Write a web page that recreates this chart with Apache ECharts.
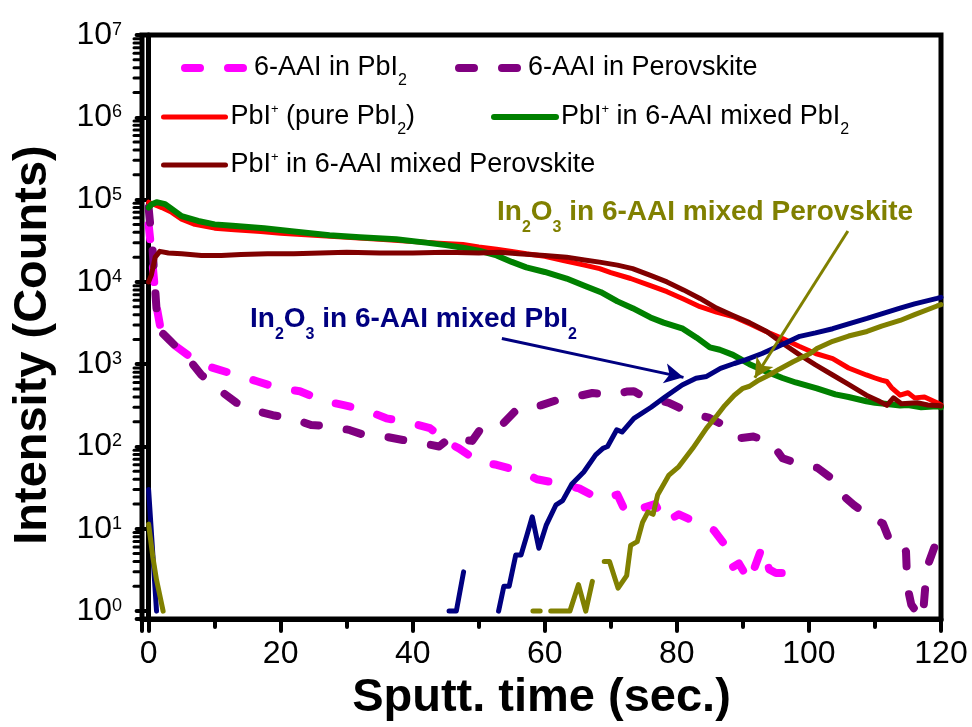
<!DOCTYPE html>
<html>
<head>
<meta charset="utf-8">
<script src="https://cdn.jsdelivr.net/npm/echarts@6/dist/echarts.min.js"></script>
<style>
  html, body { margin: 0; padding: 0; background: #fff; }
  #chart { width: 972px; height: 727px; }
</style>
</head>
<body>
<div id="chart"></div>
<script>
const FONT = '"Liberation Sans", Arial, Helvetica, sans-serif';

// ToF-SIMS depth profiles: [sputter time (s), intensity (counts)].
// A '-' intensity breaks the trace where the signal falls below one count.
const aaiInPbI2 = [
  [0, 50000], [0.4, 25000], [0.9, 9000], [1.2, 5100], [2, 2240], [3.5, 1800], [6.7, 1170], [9.2, 930],
  [13.3, 740], [16.4, 620], [19.8, 510], [22.9, 470], [26.4, 360], [29.4, 320], [33, 275], [36, 220],
  [39.5, 195], [42.6, 167], [45.7, 108], [47, 95], [50, 65], [52.7, 60], [56.7, 49], [58.8, 40],
  [62.5, 35], [65.2, 31], [68.3, 23], [71, 26], [72.4, 15], [74, 17], [76.7, 20], [78.2, 12],
  [80.3, 15], [82.9, 12], [85.6, 9.6], [87.2, 6.5], [88.4, 3.4], [89.4, 3.8], [91, 2.3], [92.9, 6],
  [94, 3.2], [95, 2.9], [98, 2.9]
];
const aaiInPerovskite = [
  [0, 80000], [0.6, 25000], [1, 8000], [1.4, 2700], [3.2, 1950], [6.2, 1120], [8, 740], [10.8, 480],
  [13.3, 340], [16, 275], [18.8, 240], [21.8, 220], [24.6, 182], [27.4, 178], [30.5, 158], [33, 135],
  [36, 131], [38.5, 120], [41.5, 110], [44, 100], [46, 135], [48, 120], [49, 117], [50.6, 178],
  [53.7, 190], [55.9, 290], [59.4, 316], [61.7, 363], [64.5, 400], [67.2, 447], [70.3, 420], [72.4, 465],
  [73.5, 470], [75, 400], [78.8, 340], [81.7, 263], [84.8, 224], [87.1, 182], [89.3, 126], [91.6, 132],
  [94.2, 114], [96, 72], [98.9, 60], [101.3, 55], [103.6, 40], [105, 26], [106.8, 19.5], [108.9, 14.6],
  [111.2, 11.6], [112, 8], [113.6, 8], [114.7, 5.3], [114.9, 2], [115.5, 1.2], [116.2, 1], [116.8, 1.5],
  [117.4, 1.2], [117.8, 3], [118, 3.6], [119, 6], [120, 4]
];
const pbiPure = [
  [0, 93000], [1, 86000], [2, 80000], [3.5, 70000], [5, 58000], [7, 50000], [10, 45000], [13, 43000],
  [17, 41000], [20, 39000], [25, 37000], [30, 35000], [35, 33000], [40, 31000], [44, 29500], [47.6, 28500],
  [50, 26500], [52.7, 25000], [55, 23500], [57.2, 22000], [60, 20500], [63, 18000], [66, 16000], [68.3, 14500],
  [70, 13000], [73, 11000], [76, 9000], [78.5, 7600], [81, 6200], [83.5, 5000], [86, 4300], [88.5, 3800],
  [91, 3100], [93.5, 2500], [96, 2050], [98.5, 1650], [101, 1350], [103.6, 1170], [106, 900], [108.7, 740],
  [110, 680], [111, 640], [111.8, 616], [112.5, 520], [113.8, 420], [115, 450], [116, 390], [117.5, 400],
  [119.4, 340], [120, 320]
];
const pbiMixedPbI2 = [
  [0, 80000], [0.5, 88000], [1.2, 93000], [2.5, 88000], [3.6, 76000], [5, 63000], [7.5, 55000], [10, 50000],
  [12.7, 48000], [17.5, 45000], [22, 41000], [27.4, 37000], [32, 35000], [37.5, 33000], [42, 30000], [45, 28000],
  [47.6, 26000], [50, 24000], [52.7, 21000], [55, 17500], [57.2, 15000], [60, 13200], [63.3, 11000], [66, 9000],
  [68.5, 7500], [71, 5800], [73.3, 4800], [76, 3700], [78, 3200], [80.9, 2700], [83, 2100], [85, 1600],
  [86.5, 1500], [88.5, 1300], [91, 1000], [93.6, 810], [96, 680], [98, 600], [101.2, 510], [104, 430],
  [106, 400], [108.7, 355], [110, 340], [111.5, 330], [113.8, 315], [115, 320], [117, 300], [119.4, 309],
  [120, 300]
];
const pbiMixedPerovskite = [
  [0, 10000], [0.4, 12000], [1, 20000], [1.7, 23500], [3, 22500], [5, 22000], [8, 21000], [11, 21000],
  [14, 21500], [18, 22000], [22, 22000], [26, 22500], [30, 23000], [35, 22500], [40, 22500], [45, 23000],
  [50, 22500], [53.2, 23000], [56, 22000], [60, 21000], [63.3, 20000], [66, 18500], [68.3, 17400], [71, 16000],
  [73.3, 14500], [76, 12000], [78.5, 10000], [81, 8000], [83.5, 6300], [86, 4800], [88.5, 3900], [91, 3200],
  [93.6, 2500], [96, 1800], [98.6, 1300], [101, 980], [103.6, 740], [106, 570], [108.7, 420], [110.5, 360],
  [111.8, 316], [112.8, 390], [114, 330], [116.4, 340], [118, 320], [119.4, 316], [120, 310]
];
const in2o3MixedPbI2 = [
  [0, 30], [1.2, 1], [1.3, '-'],
  [45.5, 1], [46.6, 1], [47.7, 3], [47.8, '-'],
  [53, 1], [53.8, 2], [54.6, 2], [55.6, 4.8], [56.4, 4.8], [57.3, 8.4], [58.1, 14], [59.1, 5.8],
  [60.2, 11], [61.7, 19.6], [62.7, 22], [64.1, 35], [65.9, 49], [67.7, 79], [68.8, 95], [69.5, 100],
  [70.9, 160], [71.7, 150], [73.5, 220], [76.1, 300], [78.2, 400], [80.8, 560], [82.9, 675], [84.5, 710],
  [86.6, 890], [88.7, 1020], [90.3, 1120], [92.9, 1350], [95, 1600], [97, 1900], [98.6, 2180], [101, 2400],
  [103.6, 2700], [106, 3100], [108.8, 3600], [111, 4100], [113.8, 4800], [116, 5400], [119.4, 6300], [120, 6500]
];
const in2o3MixedPerovskite = [
  [0, 11.4], [0.65, 4.5], [1.2, 2.4], [2.2, 1], [2.3, '-'],
  [58.2, 1], [59.3, 1], [59.4, '-'],
  [60.9, 1], [63.8, 1], [65.1, 2.1], [66.2, 1], [67.2, 2.3], [67.3, '-'],
  [69, 4], [69.8, 4], [71.1, 1.9], [72.4, 2.7], [73, 6.3], [74, 7], [74.8, 12], [75.6, 16],
  [76.4, 15], [77.1, 26], [78.8, 45], [80.3, 57], [82.4, 95], [84.5, 167], [86.1, 240], [87.1, 305],
  [88.7, 420], [90, 510], [91, 540], [92.4, 640], [94, 740], [95.5, 870], [97.6, 1070], [98.6, 1170],
  [100.2, 1350], [101.2, 1550], [103.6, 1900], [106, 2200], [108.8, 2500], [111, 2900], [113.8, 3400],
  [116, 4000], [119.4, 5100], [120, 5300]
];

// Log-axis minor ticks: 2..9 within each decade
const minorMantissas = [2, 3, 4, 5, 6, 7, 8, 9];
const decades = [1, 10, 100, 1000, 10000, 100000, 1000000];

const X_MIN = -1, X_MAX = 120;
const Y_MIN = 0.8, Y_MAX = 1e7;

const DASH = [15, 28];

// Every legend label ends in a subscript-sized token so all rows share one box height
const seriesSpec = [
  { id: 'aaiPbI2', data: aaiInPbI2, color: '#ff00ff', width: 8, dash: DASH,
    label: '{t|6-AAI in PbI}{sub|2}', legendLeft: 181, legendTop: 47, legendWidth: 64 },
  { id: 'aaiPero', data: aaiInPerovskite, color: '#800080', width: 8, dash: DASH,
    label: '{t|6-AAI in Perovskite}{sub| }', legendLeft: 455, legendTop: 47, legendWidth: 64 },
  { id: 'pbiPure', data: pbiPure, color: '#ff0000', width: 5, dash: 'solid',
    label: '{t|PbI}{sup|+}{t| (pure PbI}{sub|2}{t|)}', legendLeft: 161, legendTop: 96, legendWidth: 62 },
  { id: 'pbiMixPbI2', data: pbiMixedPbI2, color: '#008000', width: 6, dash: 'solid',
    label: '{t|PbI}{sup|+}{t| in 6-AAI mixed PbI}{sub|2}', legendLeft: 491, legendTop: 96, legendWidth: 62 },
  { id: 'pbiMixPero', data: pbiMixedPerovskite, color: '#800000', width: 5, dash: 'solid',
    label: '{t|PbI}{sup|+}{t| in 6-AAI mixed Perovskite}{sub| }', legendLeft: 161, legendTop: 144, legendWidth: 62 },
  { id: 'inPbI2', data: in2o3MixedPbI2, color: '#000080', width: 5, dash: 'solid' },
  { id: 'inPero', data: in2o3MixedPerovskite, color: '#808000', width: 5, dash: 'solid' }
];

const legendRich = {
  t: { fontSize: 27, lineHeight: 42, fontFamily: FONT, color: '#000', verticalAlign: 'middle' },
  sub: { fontSize: 16, lineHeight: 16, fontFamily: FONT, color: '#000', verticalAlign: 'top', padding: [26, 0, 0, 0] },
  sup: { fontSize: 13, lineHeight: 13, fontFamily: FONT, color: '#000', verticalAlign: 'top', padding: [7, 0, 0, 0] }
};

const legends = seriesSpec.filter(s => s.label).map(s => ({
  data: [s.id],
  left: s.legendLeft,
  top: s.legendTop,
  padding: 0,
  itemWidth: s.legendWidth,
  itemHeight: 14,
  selectedMode: false,
  formatter: () => s.label,
  textStyle: { fontSize: 27, lineHeight: 42, fontFamily: FONT, color: '#000', rich: legendRich },
  itemStyle: { color: 'rgba(0,0,0,0)', borderWidth: 0 },
  lineStyle: { width: s.width, type: s.dash, cap: 'round', color: s.color }
}));

const minorTickData = [];
decades.forEach(d => minorMantissas.forEach(m => minorTickData.push([X_MIN, d * m])));

const lineSeries = seriesSpec.map(s => ({
  id: s.id,
  name: s.id,
  type: 'line',
  data: s.data,
  symbol: 'none',
  showSymbol: false,
  connectNulls: false,
  color: s.color,
  lineStyle: { color: s.color, width: s.width, type: s.dash, cap: 'round', join: 'round' },
  emphasis: { disabled: true },
  silent: true
}));

function arrowLine(from, to, color) {
  return {
    silent: true,
    animation: false,
    symbol: ['none', 'arrow'],
    symbolSize: [15, 19],
    label: { show: false },
    lineStyle: { color: color, width: 3, type: 'solid' },
    emphasis: { disabled: true },
    data: [[{ coord: from }, { coord: to }]]
  };
}
lineSeries[5].markLine = arrowLine([53.5, 2056], [81.0, 692], '#000080');
lineSeries[6].markLine = arrowLine([105.9, 41500], [91.8, 686], '#808000');

const tickSeries = {
  id: 'yMinorTicks',
  type: 'custom',
  silent: true,
  clip: false,
  data: minorTickData,
  encode: { x: 0, y: 1 },
  renderItem: (params, api) => {
    const p = api.coord([api.value(0), api.value(1)]);
    return {
      type: 'line',
      shape: { x1: p[0] - 8, y1: p[1], x2: p[0], y2: p[1] },
      style: { stroke: '#000', lineWidth: 3, lineCap: 'round' }
    };
  }
};

const annoRich = (color) => ({
  b: { fontSize: 28, fontWeight: 'bold', fontFamily: FONT, lineHeight: 48, fill: color, verticalAlign: 'middle' },
  s: { fontSize: 16, fontWeight: 'bold', fontFamily: FONT, lineHeight: 16, fill: color, verticalAlign: 'top', padding: [32, 0, 0, 0] }
});

const option = {
  animation: false,
  backgroundColor: '#ffffff',
  grid: {
    left: 142, right: 31, top: 35, bottom: 105,
    show: true, borderColor: '#000', borderWidth: 5, backgroundColor: 'rgba(0,0,0,0)'
  },
  legend: legends,
  xAxis: {
    type: 'value',
    min: X_MIN, max: X_MAX,
    name: 'Sputt. time (sec.)',
    nameLocation: 'middle',
    nameGap: 54,
    nameTextStyle: { fontSize: 47, fontWeight: 'bold', fontFamily: FONT, color: '#000', lineHeight: 47 },
    axisLine: { show: true, onZero: false, lineStyle: { color: '#000', width: 5 } },
    axisTick: { show: true, inside: false, length: 12, lineStyle: { color: '#000', width: 4, cap: 'round' } },
    minorTick: { show: true, splitNumber: 2, length: 8, lineStyle: { color: '#000', width: 4, cap: 'round' } },
    splitLine: { show: false },
    minorSplitLine: { show: false },
    axisLabel: {
      fontSize: 32, fontFamily: FONT, color: '#000', margin: 19,
      formatter: v => (v < 0 ? '' : String(v))
    }
  },
  yAxis: {
    type: 'log',
    logBase: 10,
    min: Y_MIN, max: Y_MAX,
    name: 'Intensity (Counts)',
    nameLocation: 'middle',
    nameRotate: 90,
    nameGap: 85,
    nameTextStyle: { fontSize: 47, fontWeight: 'bold', fontFamily: FONT, color: '#000', lineHeight: 47, padding: [0, 36, 0, 0] },
    axisLine: { show: true, lineStyle: { color: '#000', width: 5 } },
    axisTick: { show: true, inside: false, length: 12, lineStyle: { color: '#000', width: 4, cap: 'round' } },
    minorTick: { show: false },
    splitLine: { show: false },
    axisLabel: {
      margin: 20,
      fontSize: 32,
      formatter: v => {
        if (v < 0.95) return '';
        const e = Math.round(Math.log10(v));
        return '{b|10}{s|' + e + '}';
      },
      rich: {
        b: { fontSize: 32, lineHeight: 32, fontFamily: FONT, color: '#000', verticalAlign: 'middle' },
        s: { fontSize: 18, lineHeight: 18, fontFamily: FONT, color: '#000', verticalAlign: 'top', padding: [2, 0, 0, 0] }
      }
    }
  },
  graphic: [
    {
      type: 'text', left: 250, top: 295, silent: true,
      style: { text: '{b|In}{s|2}{b|O}{s|3}{b| in 6-AAI mixed PbI}{s|2}', rich: annoRich('#000080'), fill: '#000080' }
    },
    {
      type: 'text', left: 497, top: 188, silent: true,
      style: { text: '{b|In}{s|2}{b|O}{s|3}{b| in 6-AAI mixed Perovskite}', rich: annoRich('#808000'), fill: '#808000' }
    }
  ],
  series: [tickSeries].concat(lineSeries)
};

const chart = echarts.init(document.getElementById('chart'));
chart.setOption(option);
</script>
</body>
</html>
